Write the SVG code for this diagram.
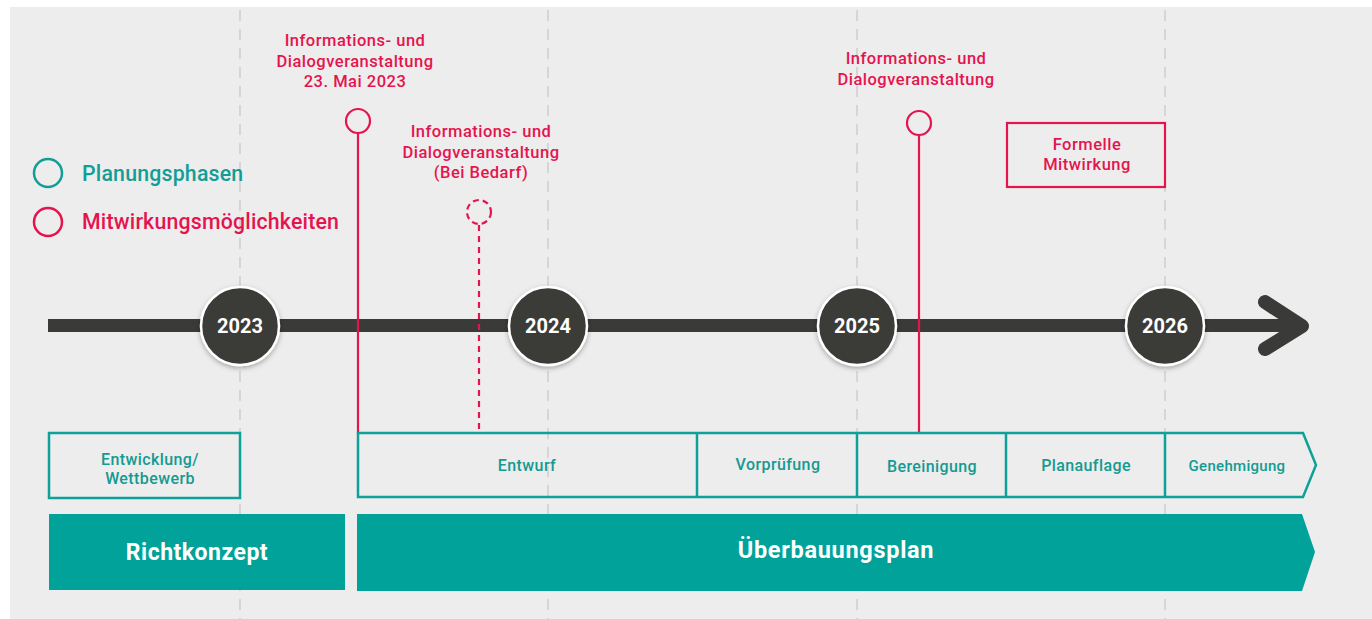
<svg xmlns="http://www.w3.org/2000/svg" width="1372" height="619" viewBox="0 0 1372 619">
<defs>
<style>
text{font-family:Roboto,"Liberation Sans",sans-serif;}
.red{fill:#e5144e;font-size:16.5px;font-weight:500;text-anchor:middle;letter-spacing:0.5px}
.leg{font-size:21.3px;font-weight:500;letter-spacing:0.2px}
.ph{fill:#149a92;font-size:16px;font-weight:500;text-anchor:middle;letter-spacing:0.4px}
.yr{fill:#ffffff;font-size:20px;font-weight:700;text-anchor:middle}
.big{fill:#ffffff;font-size:23px;font-weight:700;text-anchor:middle;letter-spacing:0.5px}
.grid{stroke:#c9c9c9;stroke-width:1.3;stroke-dasharray:11 8}
.box{fill:none;stroke:#0ea197;stroke-width:2.5}
.yc{fill:#3a3a38;stroke:#ffffff;stroke-width:2.5}
</style>
<filter id="sh" x="-30%" y="-30%" width="160%" height="160%">
<feDropShadow dx="0" dy="2" stdDeviation="2.5" flood-color="#000" flood-opacity="0.3"/>
</filter>
</defs>
<rect x="0" y="0" width="1372" height="619" fill="#ffffff"/>
<rect x="10" y="7" width="1362" height="612" fill="#ededed"/>
<g id="grid">
<line class="grid" x1="240" y1="10" x2="240" y2="619"/>
<line class="grid" x1="548" y1="10" x2="548" y2="619"/>
<line class="grid" x1="857" y1="10" x2="857" y2="619"/>
<line class="grid" x1="1165" y1="10" x2="1165" y2="619"/>
</g>
<g id="legend">
<circle cx="48" cy="173" r="14" fill="none" stroke="#129d95" stroke-width="2.5"/>
<text class="leg" x="82" y="181" fill="#129d95">Planungsphasen</text>
<circle cx="48" cy="222" r="14" fill="none" stroke="#e5144e" stroke-width="2.5"/>
<text class="leg" x="82" y="229" fill="#e5144e">Mitwirkungsmöglichkeiten</text>
</g>
<g id="timeline">
<rect x="48" y="319" width="1250" height="13" fill="#3a3a38"/>
<polyline points="1265,302 1302,326 1265,349" fill="none" stroke="#3a3a38" stroke-width="14" stroke-linecap="round" stroke-linejoin="round"/>
</g>
<g id="connectors">
<line x1="358" y1="133" x2="358" y2="433" stroke="#e5144e" stroke-width="2.2"/>
<line x1="479" y1="225" x2="479" y2="433" stroke="#e5144e" stroke-width="2.2" stroke-dasharray="6 5"/>
<line x1="919" y1="135" x2="919" y2="433" stroke="#e5144e" stroke-width="2.2"/>
</g>
<g id="y2023"><circle class="yc" cx="240" cy="326" r="39" filter="url(#sh)"/><text class="yr" x="240" y="333">2023</text></g>
<g id="y2024"><circle class="yc" cx="548" cy="326" r="39" filter="url(#sh)"/><text class="yr" x="548" y="333">2024</text></g>
<g id="y2025"><circle class="yc" cx="857" cy="326" r="39" filter="url(#sh)"/><text class="yr" x="857" y="333">2025</text></g>
<g id="y2026"><circle class="yc" cx="1165" cy="326" r="39" filter="url(#sh)"/><text class="yr" x="1165" y="333">2026</text></g>
<g id="event1">
<circle cx="358" cy="121" r="12" fill="none" stroke="#e5144e" stroke-width="2.2"/>
<text class="red" x="355" y="46">Informations- und</text>
<text class="red" x="355" y="67">Dialogveranstaltung</text>
<text class="red" x="355" y="87">23. Mai 2023</text>
</g>
<g id="event2">
<circle cx="479" cy="212" r="12" fill="none" stroke="#e5144e" stroke-width="2.2" stroke-dasharray="6 4"/>
<text class="red" x="481" y="137">Informations- und</text>
<text class="red" x="481" y="158">Dialogveranstaltung</text>
<text class="red" x="481" y="178">(Bei Bedarf)</text>
</g>
<g id="event3">
<circle cx="919" cy="123" r="12" fill="none" stroke="#e5144e" stroke-width="2.2"/>
<text class="red" x="916" y="64">Informations- und</text>
<text class="red" x="916" y="85">Dialogveranstaltung</text>
</g>
<g id="formell">
<rect x="1007" y="123" width="158" height="64" fill="none" stroke="#e5144e" stroke-width="2.2"/>
<text class="red" x="1087" y="150">Formelle</text>
<text class="red" x="1087" y="170">Mitwirkung</text>
</g>
<g id="entwicklung">
<rect class="box" x="49" y="433" width="191" height="65"/>
<text class="ph" x="150" y="465">Entwicklung/</text>
<text class="ph" x="150" y="484">Wettbewerb</text>
</g>
<g id="phases">
<polygon class="box" points="358,433 1303,433 1316,465 1303,497 358,497"/>
<line class="box" x1="697" y1="433" x2="697" y2="497"/>
<line class="box" x1="857" y1="433" x2="857" y2="497"/>
<line class="box" x1="1006" y1="433" x2="1006" y2="497"/>
<line class="box" x1="1165" y1="433" x2="1165" y2="497"/>
<text class="ph" x="527" y="471">Entwurf</text>
<text class="ph" x="778" y="470">Vorprüfung</text>
<text class="ph" x="932" y="472">Bereinigung</text>
<text class="ph" x="1086" y="471">Planauflage</text>
<text class="ph" x="1237" y="471" style="font-size:15px;letter-spacing:0.3px">Genehmigung</text>
</g>
<g id="richtkonzept">
<rect x="49" y="514" width="296" height="76" fill="#00a29a"/>
<text class="big" x="197" y="560">Richtkonzept</text>
</g>
<g id="ueberbauungsplan">
<polygon points="357,514 1302,514 1315,552 1302,591 357,591" fill="#00a29a"/>
<text class="big" x="836" y="558" style="font-size:23.5px;letter-spacing:0.7px">Überbauungsplan</text>
</g>
</svg>
